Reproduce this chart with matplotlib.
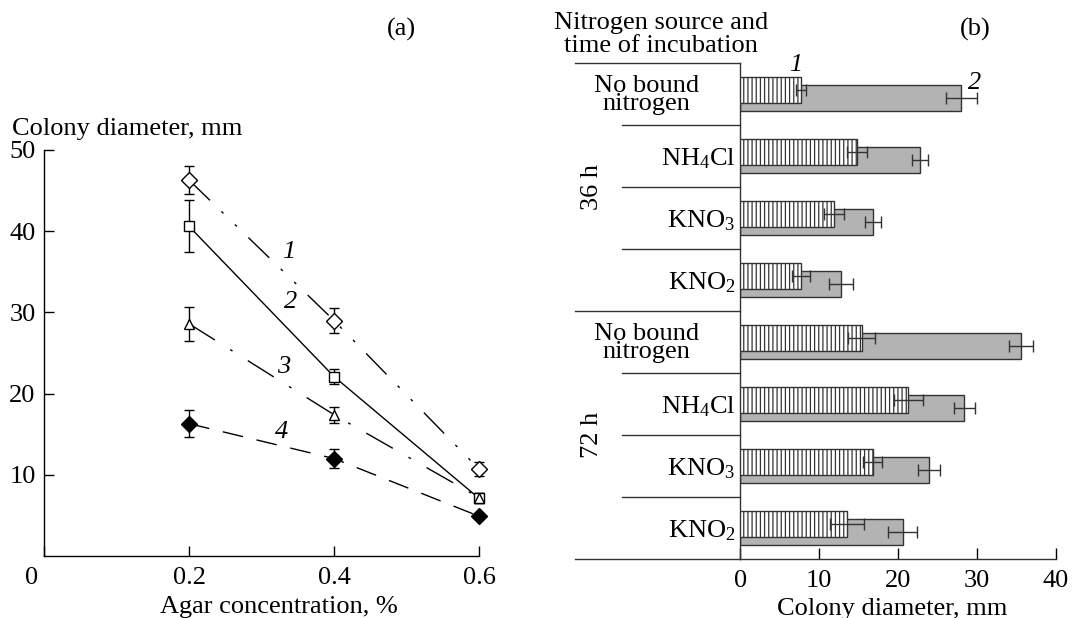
import matplotlib
matplotlib.use("Agg")
import matplotlib.pyplot as plt
import matplotlib.transforms as mtransforms
import numpy as np

plt.rcParams['font.family'] = ['Liberation Serif', 'DejaVu Serif']
plt.rcParams['mathtext.fontset'] = 'custom'
plt.rcParams['mathtext.rm'] = 'Liberation Serif'
plt.rcParams['mathtext.it'] = 'Liberation Serif:italic'
plt.rcParams['mathtext.default'] = 'regular'
plt.rcParams['hatch.linewidth'] = 0.9
plt.rcParams['font.size'] = 19

# (a) colony diameter vs agar concentration
agar = [0.2, 0.4, 0.6]
s1 = [46.3, 29.0, 10.7]
s1_err = [1.7, 1.5, 0.9]
s2 = [40.6, 22.1, 7.1]
s2_err = [3.2, 0.9, 0.6]
s3 = [28.6, 17.4, 7.2]
s3_err = [2.1, 1.0, 0.5]
s4 = [16.3, 12.0, 4.9]
s4_err = [1.7, 1.2, 0.3]

# (b) nitrogen source and incubation time
sources = ['No bound\nnitrogen', 'NH$_4$Cl', 'KNO$_3$', 'KNO$_2$',
           'No bound\nnitrogen', 'NH$_4$Cl', 'KNO$_3$', 'KNO$_2$']
bar1 = [7.7, 14.8, 11.9, 7.7, 15.4, 21.3, 16.8, 13.5]
bar1_err = [0.6, 1.25, 1.3, 1.15, 1.7, 1.8, 1.2, 2.15]
bar2 = [28.0, 22.8, 16.8, 12.8, 35.6, 28.4, 23.9, 20.6]
bar2_err = [2.0, 1.0, 1.0, 1.5, 1.5, 1.3, 1.35, 1.85]
times = ['36 h', '72 h']

fig = plt.figure(figsize=(10.72, 6.18), dpi=100)
W, H = 1072.0, 618.0

# ---------- panel (a) ----------
ax1 = fig.add_axes([44 / W, 1 - 556 / H, 435 / W, 406 / H])
styles = [
    (s1, s1_err, 'D', 'white', (0, (21, 11.5, 2, 11.5, 2, 11.5)), 8),
    (s2, s2_err, 's', 'white', '-', 7),
    (s3, s3_err, '^', 'white', (0, (22, 13, 2, 13)), 7.5),
    (s4, s4_err, 'D', 'black', (0, (15, 10)), 8),
]
for ys, es, mk, fc, ls, ms in styles:
    ax1.errorbar(agar, ys, yerr=es, fmt='none', ecolor='black',
                 elinewidth=1, capsize=3.5, capthick=1, zorder=3, clip_on=False)
    ax1.plot(agar, ys, color='black', linestyle=ls, linewidth=1.0,
             marker=mk, markersize=ms, markerfacecolor=fc,
             markeredgecolor='black', markeredgewidth=1, zorder=4, clip_on=False)

for lab, (lx, ly) in zip(['1', '2', '3', '4'],
                         [(0.337, 37.4), (0.34, 31.3), (0.33, 23.3), (0.327, 15.3)]):
    ax1.text(lx, ly, lab, style='italic', ha='center', va='center')

ax1.set_xlim(0, 0.6)
ax1.set_ylim(0, 50)
ax1.set_xticks([0, 0.2, 0.4, 0.6])
ax1.set_xticklabels(['0', '0.2', '0.4', '0.6'])
ax1.set_yticks([10, 20, 30, 40, 50])
ax1.tick_params(direction='in', length=7, width=1, pad=8)
ax1.tick_params(axis='y', pad=6)
ax1.spines['top'].set_visible(False)
ax1.spines['right'].set_visible(False)
for sp in ['left', 'bottom']:
    ax1.spines[sp].set_linewidth(1)
# shift the origin "0" label a little to the left
lbl0 = ax1.get_xticklabels()[0]
lbl0.set_transform(lbl0.get_transform() +
                   mtransforms.ScaledTranslation(-12 / 100, 0, fig.dpi_scale_trans))

fig.text(12 / W, 1 - 135 / H, 'Colony diameter, mm', ha='left', va='baseline')
fig.text(279 / W, 1 - 613 / H, 'Agar concentration, %', ha='center', va='baseline')
fig.text(401 / W, 1 - 29 / H, '(a)', ha='center', va='center')

# ---------- panel (b) ----------
ax2 = fig.add_axes([740.3 / W, 1 - 559 / H, 315.7 / W, 496 / H])
pos = np.arange(len(sources))
hgt = 0.42
ax2.barh(pos + 0.06, bar2, height=hgt, color='#b3b3b3', edgecolor='#333333',
         linewidth=1, zorder=2)
ax2.barh(pos - 0.065, bar1, height=hgt, color='white', edgecolor='#333333',
         hatch='||||', linewidth=1, zorder=3)
ax2.errorbar(bar2, pos + 0.06, xerr=bar2_err, fmt='none', ecolor='#333333',
             elinewidth=1, capsize=4, capthick=1, zorder=5)
ax2.errorbar(bar1, pos - 0.065, xerr=bar1_err, fmt='none', ecolor='#333333',
             elinewidth=1, capsize=4, capthick=1, zorder=5)

ax2.set_xlim(0, 40)
ax2.set_ylim(7.5, -0.5)
ax2.set_xticks([0, 10, 20, 30, 40])
ax2.set_yticks([])
ax2.tick_params(axis='x', direction='in', length=8, width=1, pad=8)
ax2.spines['top'].set_visible(False)
ax2.spines['right'].set_visible(False)
for sp in ['left', 'bottom']:
    ax2.spines[sp].set_linewidth(1)
    ax2.spines[sp].set_color('#333333')

ytr = ax2.get_yaxis_transform()
# table rules to the left of the bars
for yb in [-0.5, 3.5, 7.5]:
    ax2.plot([-0.524, 0], [yb, yb], color='#333333', lw=1, transform=ytr, clip_on=False)
for yb in [0.5, 1.5, 2.5, 4.5, 5.5, 6.5]:
    ax2.plot([-0.375, 0], [yb, yb], color='#333333', lw=1, transform=ytr, clip_on=False)

for i, name in enumerate(sources):
    if '\n' in name:
        ax2.text(-0.297, i + 0.02, name, transform=ytr, ha='center', va='center',
                 linespacing=0.78)
    else:
        ax2.text(-0.016, i + 0.15, name, transform=ytr, ha='right', va='baseline')

for t, yc in zip(times, [1.5, 5.5]):
    ax2.text(-0.471, yc, t, transform=ytr, rotation=90, ha='center', va='center')

ax2.text(7.05, -0.47, '1', style='italic', ha='center', va='center')
ax2.text(29.7, -0.18, '2', style='italic', ha='center', va='center')

fig.text(661 / W, 1 - 29 / H, 'Nitrogen source and', ha='center', va='baseline')
fig.text(661 / W, 1 - 52.5 / H, 'time of incubation', ha='center', va='baseline')
fig.text(975 / W, 1 - 29 / H, '(b)', ha='center', va='center')
fig.text(892 / W, 1 - 615 / H, 'Colony diameter, mm', ha='center', va='baseline')

fig.savefig('out.png', dpi=100)
